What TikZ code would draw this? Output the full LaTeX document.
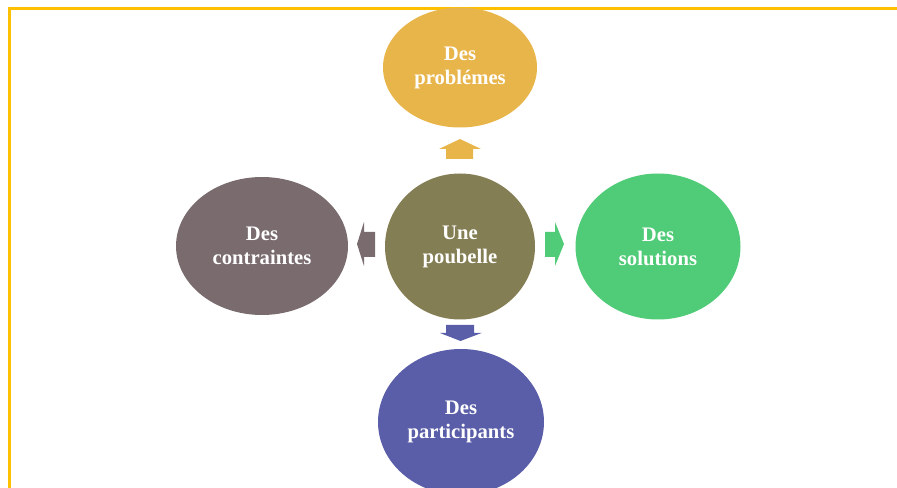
\documentclass[tikz,border=0pt]{standalone}
\usepackage{fontspec}
\setmainfont{Liberation Serif}
\usepackage{tikz}
\usetikzlibrary{shapes.geometric}

\definecolor{cadre}{HTML}{FFC000}
\definecolor{jaune}{HTML}{E8B54B}
\definecolor{olive}{HTML}{847E54}
\definecolor{mauve}{HTML}{7A6C6E}
\definecolor{vert}{HTML}{50CB77}
\definecolor{bleu}{HTML}{5A5EA8}

\tikzset{
  bulle/.style={ellipse, draw=none, text=white, inner sep=0pt, align=center,
    font=\bfseries\fontsize{15.5}{18}\selectfont},
}

\begin{document}
\begin{tikzpicture}[x=0.75pt,y=-0.75pt]
\useasboundingbox (0,0) rectangle (897,488);
\clip (0,0) rectangle (897,488);

% frame
\draw[cadre, line width=2.2pt] (9.5,492) -- (9.5,8.5) -- (900,8.5);

% bubbles
\node[bulle, fill=olive, minimum width=112.5pt, minimum height=109.5pt] (poubelle) at (460,246.5) {Une\\poubelle};
\node[bulle, fill=jaune, minimum width=115.5pt, minimum height=90pt] (problemes) at (460,67.5) {Des\\problémes};
\node[bulle, fill=mauve, minimum width=129pt, minimum height=103.5pt] (contraintes) at (262,246) {Des\\contraintes};
\node[bulle, fill=vert, minimum width=123.75pt, minimum height=109.5pt] (solutions) at (658,246.5) {Des\\solutions};
\node[bulle, fill=bleu, minimum width=124.5pt, minimum height=109.5pt] (participants) at (461,422) {Des\\participants};

% block arrows
\fill[jaune] (446,159) -- (446,149) -- (439,149) -- (460,139) -- (481,149) -- (473,149) -- (473,159) -- cycle;
\fill[bleu] (446,325) -- (474,325) -- (474,333) -- (481.5,333) -- (460.5,341) -- (440,333) -- (446,333) -- cycle;
\fill[mauve] (375,232) -- (364,232) -- (364,222) -- (357,244) -- (364,266) -- (364,257) -- (375,257) -- cycle;
\fill[vert] (545,232) -- (555,232) -- (555,222) -- (564,244) -- (555,266) -- (555,257) -- (545,257) -- cycle;
\end{tikzpicture}
\end{document}
